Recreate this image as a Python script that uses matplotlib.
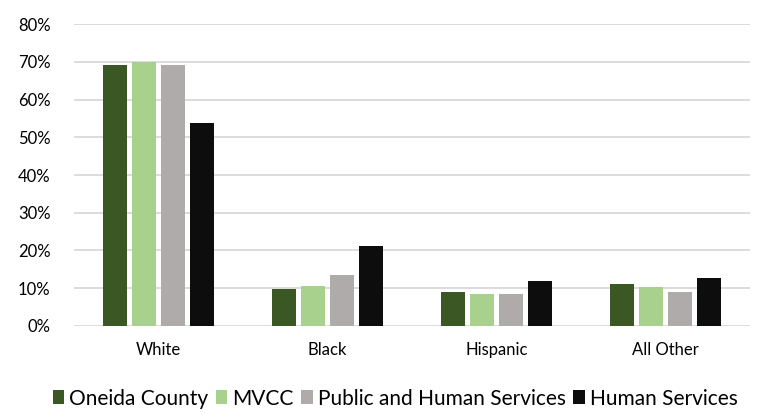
import matplotlib
matplotlib.use("Agg")
import matplotlib.pyplot as plt
import numpy as np
from matplotlib.ticker import PercentFormatter

categories = ["White", "Black", "Hispanic", "All Other"]
series_names = ["Oneida County", "MVCC", "Public and Human Services", "Human Services"]
oneida = [0.691, 0.097, 0.090, 0.111]
mvcc = [0.699, 0.105, 0.083, 0.104]
public_human = [0.691, 0.134, 0.083, 0.090]
human = [0.537, 0.211, 0.119, 0.126]
colors = ["#3B5723", "#A9D18E", "#AFABAB", "#0D0D0D"]

plt.rcParams["font.family"] = ["Lato", "DejaVu Sans"]

fig = plt.figure(figsize=(7.57, 4.15), dpi=100)
ax = fig.add_axes([0.0978, 0.2152, 0.893, 0.7262])

x = np.arange(len(categories))
slot = 0.173
width = 0.142
for i, (vals, name, c) in enumerate(zip([oneida, mvcc, public_human, human], series_names, colors)):
    ax.bar(x + (i - 1.5) * slot, vals, width, color=c, label=name, zorder=3)

ax.set_xlim(-0.5, len(categories) - 0.5)
ax.set_ylim(0, 0.8)
ax.set_yticks(np.arange(0, 0.81, 0.1))
ax.yaxis.set_major_formatter(PercentFormatter(1.0, decimals=0))
ax.set_xticks(x)
ax.set_xticklabels(categories)
ax.grid(axis="y", color="#D9D9D9", linewidth=1.3, zorder=0)
for s in ax.spines.values():
    s.set_visible(False)
ax.tick_params(axis="both", length=0, labelsize=12, colors="#000000")
ax.tick_params(axis="x", pad=12)
ax.tick_params(axis="y", pad=17)

fig.legend(loc="lower center", bbox_to_anchor=(0.522, -0.03), ncol=4, frameon=False,
           fontsize=15, handlelength=0.55, handleheight=0.65, handletextpad=0.25,
           columnspacing=0.35)

fig.savefig("out.png", dpi=100)
